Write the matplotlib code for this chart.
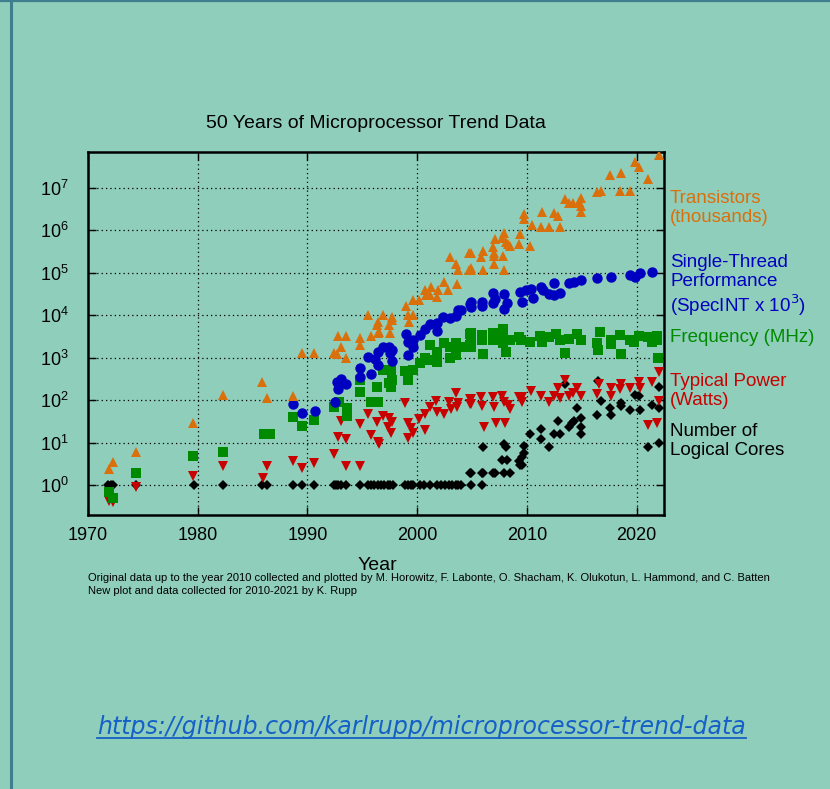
import matplotlib
matplotlib.use("Agg")
import matplotlib.pyplot as plt
from matplotlib.lines import Line2D
from matplotlib.ticker import NullLocator

plt.rcParams["font.family"] = ["Liberation Sans", "DejaVu Sans"]

# (year, value)
transistors = [
    (1971.9, 2.4), (1972.3, 3.5), (1974.4, 6), (1979.6, 29), (1982.3, 134),
    (1985.9, 275), (1986.3, 115), (1988.7, 128), (1989.5, 1270), (1990.6, 1270),
    (1992.4, 1270), (1992.8, 3200), (1993.5, 3200), (1992.7, 1200), (1993.1, 1800),
    (1993.5, 980), (1994.8, 2900), (1994.8, 2000), (1995.5, 10200), (1995.8, 3300),
    (1996.3, 5900), (1996.4, 7100), (1996.5, 4100), (1996.4, 3800), (1996.9, 10200),
    (1997.4, 5900), (1997.5, 3800), (1997.7, 9300), (1997.75, 7800), (1999.0, 16600),
    (1999.2, 10200), (1999.6, 10200), (1999.3, 7100), (1999.6, 22900), (2000.2, 22900),
    (2000.7, 39800), (2000.85, 30200), (2001.3, 45700), (2001.15, 30200), (2001.8, 27500),
    (2001.9, 39800), (2002.45, 60300), (2002.85, 39800), (2003.6, 56200), (2003.0, 240000),
    (2003.5, 158000), (2003.7, 117000), (2004.7, 288000), (2004.7, 117000), (2004.9, 288000),
    (2004.9, 117000), (2004.9, 132000), (2005.8, 240000), (2006.0, 324000), (2006.0, 120000),
    (2006.95, 398000), (2007.0, 288000), (2007.0, 251000), (2007.0, 162000), (2007.1, 617000),
    (2007.7, 646000), (2007.9, 851000), (2007.8, 251000), (2007.9, 120000), (2008.1, 537000),
    (2008.3, 468000), (2008.5, 437000), (2009.3, 479000), (2009.4, 813000), (2010.3, 427000),
    (2009.75, 2400000), (2009.75, 1900000), (2010.45, 1350000), (2011.4, 2750000),
    (2011.3, 1200000), (2012.0, 1200000), (2012.5, 2500000), (2012.8, 2200000),
    (2013.0, 1200000), (2013.5, 5400000), (2013.85, 4500000), (2014.25, 4500000),
    (2014.75, 4700000), (2014.9, 5900000), (2014.9, 3800000), (2014.9, 2750000),
    (2016.4, 7800000), (2016.8, 8300000), (2017.6, 20000000), (2018.55, 21900000),
    (2018.5, 8300000), (2019.4, 8300000), (2019.85, 41700000), (2020.2, 31600000),
    (2021.0, 16600000), (2022.0, 58900000),
]

single_thread = [
    (1988.7, 81), (1989.5, 49), (1990.7, 56), (1992.5, 89), (1992.7, 275), (1993.1, 316),
    (1992.8, 182), (1993.5, 240), (1994.8, 589), (1994.8, 347), (1995.5, 1020), (1995.8, 407),
    (1996.2, 933), (1996.4, 1380), (1996.4, 661), (1996.9, 1820), (1997.4, 1820), (1997.5, 1320),
    (1997.7, 1510), (1997.7, 832), (1999.0, 3550), (1999.2, 2400), (1999.6, 2690), (1999.6, 1820),
    (1999.2, 1150), (2000.3, 3390), (2000.7, 4790), (2001.2, 6170), (2001.8, 4270), (2001.85, 6460),
    (2002.4, 9330), (2003.0, 8710), (2003.5, 9770), (2003.7, 13200), (2004.0, 13200),
    (2004.8, 18600), (2004.9, 20900), (2004.9, 15800), (2005.9, 20900), (2005.9, 17000),
    (2006.95, 33900), (2006.95, 19100), (2007.1, 24000), (2007.9, 31600), (2007.9, 13800),
    (2008.2, 20000), (2009.4, 36300), (2009.6, 20900), (2009.9, 39800), (2010.4, 42700),
    (2010.6, 26300), (2011.3, 46800), (2011.5, 39800), (2012.0, 31600), (2012.5, 30900),
    (2012.5, 58900), (2013.0, 33100), (2013.85, 58900), (2014.3, 60300), (2014.9, 67600),
    (2016.4, 74100), (2017.7, 81300), (2019.4, 89100), (2019.9, 81300), (2020.3, 100000),
    (2021.4, 105000),
]

frequency = [
    (1971.9, 0.7), (1972.3, 0.5), (1974.4, 2), (1979.6, 5), (1982.3, 6), (1986.0, 16),
    (1986.6, 16), (1988.7, 40), (1989.5, 25), (1990.6, 35), (1992.4, 68), (1992.9, 93),
    (1993.6, 65), (1993.6, 42), (1994.8, 302), (1994.8, 155), (1995.8, 93), (1996.4, 93),
    (1996.3, 209), (1996.9, 513), (1997.6, 513), (1997.4, 251), (1997.7, 302), (1997.6, 209),
    (1998.9, 490), (1999.2, 302), (1999.6, 513), (2000.3, 741), (2000.7, 977), (2001.2, 2000),
    (2001.2, 912), (2001.8, 1380), (2001.8, 813), (2002.45, 2290), (2003.0, 1780), (2003.0, 977),
    (2003.5, 2290), (2003.6, 1820), (2003.5, 1170), (2004.8, 3630), (2004.8, 2000), (2004.0, 1820),
    (2004.9, 3800), (2004.9, 2630), (2004.9, 1820), (2005.9, 3470), (2005.9, 2630), (2006.0, 1200),
    (2006.9, 3800), (2006.9, 2630), (2007.0, 3160), (2007.8, 4790), (2007.8, 3160), (2007.8, 2190),
    (2008.1, 1380), (2008.5, 2630), (2009.3, 3160), (2009.45, 2630), (2010.3, 2400), (2011.2, 3240),
    (2011.4, 2400), (2012.0, 3160), (2012.7, 3550), (2013.0, 2630), (2013.5, 1290), (2013.85, 2750),
    (2014.55, 3630), (2014.95, 2630), (2016.4, 2290), (2016.7, 4170), (2016.5, 1510), (2017.65, 2630),
    (2017.65, 2090), (2018.5, 3470), (2018.6, 1230), (2019.4, 2690), (2019.8, 2400), (2020.2, 3240),
    (2021.0, 3160), (2021.45, 2400), (2021.9, 3240), (2021.9, 2630), (2021.96, 977),
]

power = [
    (1971.9, 0.43), (1972.3, 0.40), (1974.4, 0.9), (1979.6, 1.65), (1982.3, 2.9), (1985.95, 1.45),
    (1986.3, 2.9), (1988.7, 3.7), (1989.5, 2.6), (1990.6, 3.3), (1992.4, 5.6), (1992.8, 13.8),
    (1993.1, 33), (1993.5, 12.6), (1993.5, 2.8), (1994.8, 27.5), (1994.8, 2.8), (1995.5, 47.9),
    (1995.8, 15.1), (1996.3, 31.6), (1996.4, 10.7), (1996.5, 9.3), (1996.9, 42.7), (1997.4, 38),
    (1997.35, 24), (1997.6, 16.6), (1997.75, 31.6), (1998.9, 87), (1999.2, 29.5), (1999.2, 13.2),
    (1999.4, 21.9), (1999.6, 16.6), (2000.2, 35.5), (2000.7, 47.9), (2000.7, 19.5), (2001.2, 70.8),
    (2001.7, 95.5), (2001.85, 53.7), (2002.45, 46.8), (2002.9, 93.3), (2003.1, 61.7), (2003.5, 145),
    (2003.6, 70.8), (2003.7, 85), (2004.8, 105), (2004.8, 81), (2004.9, 105), (2004.9, 81),
    (2005.8, 123), (2005.95, 74), (2006.1, 24), (2006.95, 123), (2007.0, 71), (2007.2, 29.5),
    (2007.7, 126), (2007.9, 93), (2008.0, 29.5), (2008.3, 78), (2008.5, 62), (2009.3, 123),
    (2009.6, 123), (2009.6, 93), (2010.4, 170), (2011.3, 126), (2012.0, 93), (2012.5, 126),
    (2012.8, 191), (2013.0, 112), (2013.5, 302), (2013.85, 126), (2014.2, 151), (2014.55, 191),
    (2014.9, 126), (2016.4, 141), (2016.6, 240), (2017.65, 191), (2017.7, 126), (2018.55, 240),
    (2018.5, 182), (2019.4, 191), (2020.2, 263), (2020.3, 191), (2021.0, 26), (2021.4, 275),
    (2022.0, 468), (2022.0, 98), (2021.9, 29),
]

cores = [
    (1971.8, 1), (1972.1, 1), (1972.3, 1), (1974.4, 1), (1979.7, 1), (1982.3, 1), (1985.9, 1),
    (1986.3, 1), (1988.7, 1), (1989.5, 1), (1990.6, 1), (1992.4, 1), (1992.6, 1), (1992.8, 1),
    (1993.1, 1), (1993.5, 1), (1994.8, 1), (1995.5, 1), (1995.8, 1), (1996.1, 1), (1996.4, 1),
    (1996.7, 1), (1997.0, 1), (1997.3, 1), (1997.5, 1), (1997.8, 1), (1998.9, 1), (1999.2, 1),
    (1999.4, 1), (1999.6, 1), (2000.3, 1), (2000.6, 1), (2001.2, 1), (2001.8, 1), (2002.2, 1),
    (2002.5, 1), (2002.9, 1), (2003.2, 1), (2003.5, 1), (2003.7, 1), (2004.0, 1), (2004.9, 1),
    (2005.9, 1), (2004.8, 2), (2004.9, 2), (2005.9, 2), (2006.0, 2), (2006.95, 2), (2007.1, 2),
    (2007.9, 2), (2008.5, 2), (2006.0, 8), (2007.7, 4), (2008.2, 4), (2007.9, 9.3), (2008.1, 8.1),
    (2009.3, 3.7), (2009.4, 3.0), (2009.55, 3.0), (2009.6, 4.7), (2009.75, 5.9), (2009.75, 8.5),
    (2010.3, 16), (2011.3, 12), (2011.3, 21), (2012.0, 8.1), (2012.5, 16), (2013.0, 16),
    (2012.8, 32), (2013.5, 240), (2013.85, 24), (2014.1, 29), (2014.3, 32), (2014.55, 65),
    (2014.9, 38), (2014.9, 24), (2014.9, 16), (2016.4, 45), (2016.5, 288), (2016.8, 98),
    (2017.6, 65), (2017.7, 45), (2018.55, 85), (2018.6, 74), (2019.4, 58), (2019.9, 135),
    (2020.2, 126), (2020.3, 58), (2021.0, 8.1), (2021.4, 79), (2022.0, 10), (2022.0, 209),
    (2022.05, 65),
]

x_ticks = [1970, 1980, 1990, 2000, 2010, 2020]
y_ticks = [1, 10, 100, 1e3, 1e4, 1e5, 1e6, 1e7]

BG = "#8fcebb"
ORANGE = "#d9700c"
BLUE = "#0000c0"
GREEN = "#008a00"
RED = "#c80000"

W, H = 830, 789
fig = plt.figure(figsize=(W / 100, H / 100), dpi=100, facecolor=BG)
ax = fig.add_axes([88 / W, 1 - 515 / H, (664 - 88) / W, (515 - 152) / H])
ax.set_facecolor(BG)
ax.set_yscale("log")
ax.set_xlim(1970, 2022.5)
ax.set_ylim(0.2, 7e7)


def scatter(data, marker, color, ms):
    xs = [d[0] for d in data]
    ys = [d[1] for d in data]
    ax.plot(xs, ys, linestyle="none", marker=marker, color=color,
            markersize=ms, markeredgewidth=0, zorder=3)


scatter(cores, "D", "black", 5.5)
scatter(power, "v", RED, 7.5)
scatter(frequency, "s", GREEN, 6.5)
scatter(single_thread, "o", BLUE, 7.5)
scatter(transistors, "^", ORANGE, 7.5)

ax.set_xticks(x_ticks)
ax.set_yticks(y_ticks)
ax.yaxis.set_minor_locator(NullLocator())
ax.grid(True, color="black", linestyle=(0, (1, 2.5)), linewidth=0.9)
ax.tick_params(which="both", direction="in", top=True, right=True,
               length=6, width=1, labelsize=13)
ax.tick_params(axis="x", pad=9)
ax.tick_params(axis="y", pad=14)
for s in ax.spines.values():
    s.set_linewidth(1.8)

fig.text(376 / W, 1 - 123 / H, "50 Years of Microprocessor Trend Data",
         ha="center", va="center", fontsize=14)
fig.text(377 / W, 1 - 565 / H, "Year", ha="center", va="center", fontsize=14)
fig.text(88 / W, 1 - 578 / H,
         "Original data up to the year 2010 collected and plotted by M. Horowitz, "
         "F. Labonte, O. Shacham, K. Olukotun, L. Hammond, and C. Batten",
         ha="left", va="center", fontsize=8.0)
fig.text(88 / W, 1 - 591 / H, "New plot and data collected for 2010-2021 by K. Rupp",
         ha="left", va="center", fontsize=8.0)

labels = [
    ("Transistors\n(thousands)", ORANGE, 208),
    ("Single-Thread\nPerformance\n(SpecINT x 10$^3$)", BLUE, 286),
    ("Frequency (MHz)", GREEN, 338),
    ("Typical Power\n(Watts)", RED, 391),
    ("Number of\nLogical Cores", "black", 441),
]
for text, color, yc in labels:
    fig.text(670 / W, 1 - yc / H, text, color=color, ha="left", va="center",
             fontsize=13.5, linespacing=1.15)

url = fig.text(97 / W, 1 - 727 / H, "https://github.com/karlrupp/microprocessor-trend-data",
               ha="left", va="center", fontsize=17, color="#1560c8",
               family="DejaVu Sans", style="italic")
renderer = fig.canvas.get_renderer()
bb = url.get_window_extent(renderer)
uy = (bb.y0 + 1) / H
fig.add_artist(Line2D([bb.x0 / W, bb.x1 / W], [uy, uy], color="#1560c8", linewidth=1.3))

# page border
fig.add_artist(Line2D([10.8 / W, 10.8 / W], [0, 1], color="#3e7e8d", linewidth=2.2))
fig.add_artist(Line2D([0, 1], [1 - 1 / H, 1 - 1 / H], color="#3e7e8d", linewidth=1.6))

fig.savefig("out.png", dpi=100, facecolor=BG)
